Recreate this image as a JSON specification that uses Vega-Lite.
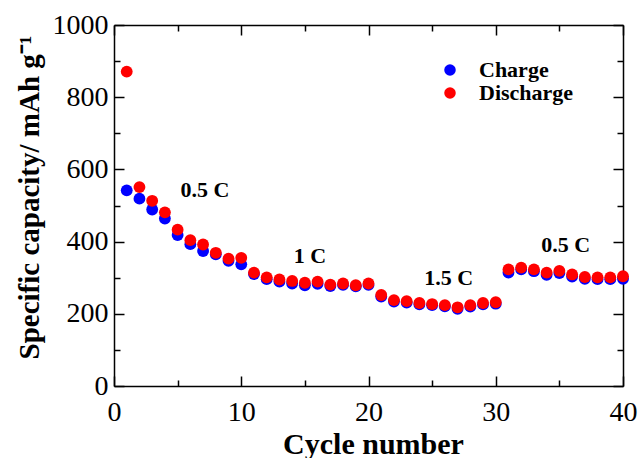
{
  "$schema": "https://vega.github.io/schema/vega-lite/v6.json",
  "width": 509,
  "height": 361,
  "autosize": {"type": "none"},
  "padding": {"left": 114, "top": 25, "right": 18, "bottom": 72},
  "background": "white",
  "config": {
    "view": {"stroke": null},
    "style": {"guide-label": {"font": "Liberation Serif", "fontSize": 28, "fill": "black"}, "guide-title": {"font": "Liberation Serif", "fontWeight": "bold", "fill": "black"}},
    "axis": {
      "domainColor": "black",
      "domainWidth": 1.5,
      "tickColor": "black",
      "tickWidth": 1.5,
      "grid": false,
      "labelFont": "Liberation Serif",
      "labelFontSize": 28,
      "labelColor": "black",
      "titleFont": "Liberation Serif",
      "titleFontWeight": "bold",
      "titleColor": "black"
    },
    "legend": {
      "orient": "none",
      "legendX": 325,
      "legendY": 34,
      "padding": 0,
      "title": null,
      "symbolType": "circle",
      "symbolSize": 133,
      "symbolStrokeWidth": 0,
      "labelFont": "Liberation Serif",
      "labelFontWeight": "bold",
      "labelFontSize": 22,
      "labelColor": "black",
      "labelOffset": 18,
      "rowPadding": 1
    }
  },
  "resolve": {"axis": {"x": "independent", "y": "independent"}},
  "layer": [
    {
      "data": {
        "values": [
          {"cycle": 1, "series": "Charge", "capacity": 542},
          {"cycle": 2, "series": "Charge", "capacity": 519},
          {"cycle": 3, "series": "Charge", "capacity": 489},
          {"cycle": 4, "series": "Charge", "capacity": 464},
          {"cycle": 5, "series": "Charge", "capacity": 418},
          {"cycle": 6, "series": "Charge", "capacity": 393},
          {"cycle": 7, "series": "Charge", "capacity": 374},
          {"cycle": 8, "series": "Charge", "capacity": 365},
          {"cycle": 9, "series": "Charge", "capacity": 347},
          {"cycle": 10, "series": "Charge", "capacity": 337},
          {"cycle": 11, "series": "Charge", "capacity": 310},
          {"cycle": 12, "series": "Charge", "capacity": 296},
          {"cycle": 13, "series": "Charge", "capacity": 289},
          {"cycle": 14, "series": "Charge", "capacity": 284},
          {"cycle": 15, "series": "Charge", "capacity": 279},
          {"cycle": 16, "series": "Charge", "capacity": 283},
          {"cycle": 17, "series": "Charge", "capacity": 277},
          {"cycle": 18, "series": "Charge", "capacity": 280},
          {"cycle": 19, "series": "Charge", "capacity": 276},
          {"cycle": 20, "series": "Charge", "capacity": 280},
          {"cycle": 21, "series": "Charge", "capacity": 248},
          {"cycle": 22, "series": "Charge", "capacity": 234},
          {"cycle": 23, "series": "Charge", "capacity": 231},
          {"cycle": 24, "series": "Charge", "capacity": 226},
          {"cycle": 25, "series": "Charge", "capacity": 224},
          {"cycle": 26, "series": "Charge", "capacity": 221},
          {"cycle": 27, "series": "Charge", "capacity": 214},
          {"cycle": 28, "series": "Charge", "capacity": 220},
          {"cycle": 29, "series": "Charge", "capacity": 226},
          {"cycle": 30, "series": "Charge", "capacity": 228},
          {"cycle": 31, "series": "Charge", "capacity": 314},
          {"cycle": 32, "series": "Charge", "capacity": 323},
          {"cycle": 33, "series": "Charge", "capacity": 318},
          {"cycle": 34, "series": "Charge", "capacity": 308},
          {"cycle": 35, "series": "Charge", "capacity": 313},
          {"cycle": 36, "series": "Charge", "capacity": 303},
          {"cycle": 37, "series": "Charge", "capacity": 297},
          {"cycle": 38, "series": "Charge", "capacity": 296},
          {"cycle": 39, "series": "Charge", "capacity": 296},
          {"cycle": 40, "series": "Charge", "capacity": 297},
          {"cycle": 1, "series": "Discharge", "capacity": 871},
          {"cycle": 2, "series": "Discharge", "capacity": 551},
          {"cycle": 3, "series": "Discharge", "capacity": 513},
          {"cycle": 4, "series": "Discharge", "capacity": 481},
          {"cycle": 5, "series": "Discharge", "capacity": 433},
          {"cycle": 6, "series": "Discharge", "capacity": 404},
          {"cycle": 7, "series": "Discharge", "capacity": 392},
          {"cycle": 8, "series": "Discharge", "capacity": 369},
          {"cycle": 9, "series": "Discharge", "capacity": 353},
          {"cycle": 10, "series": "Discharge", "capacity": 355},
          {"cycle": 11, "series": "Discharge", "capacity": 314},
          {"cycle": 12, "series": "Discharge", "capacity": 301},
          {"cycle": 13, "series": "Discharge", "capacity": 295},
          {"cycle": 14, "series": "Discharge", "capacity": 291},
          {"cycle": 15, "series": "Discharge", "capacity": 286},
          {"cycle": 16, "series": "Discharge", "capacity": 289},
          {"cycle": 17, "series": "Discharge", "capacity": 281},
          {"cycle": 18, "series": "Discharge", "capacity": 284},
          {"cycle": 19, "series": "Discharge", "capacity": 279},
          {"cycle": 20, "series": "Discharge", "capacity": 284},
          {"cycle": 21, "series": "Discharge", "capacity": 252},
          {"cycle": 22, "series": "Discharge", "capacity": 238},
          {"cycle": 23, "series": "Discharge", "capacity": 235},
          {"cycle": 24, "series": "Discharge", "capacity": 230},
          {"cycle": 25, "series": "Discharge", "capacity": 227},
          {"cycle": 26, "series": "Discharge", "capacity": 224},
          {"cycle": 27, "series": "Discharge", "capacity": 218},
          {"cycle": 28, "series": "Discharge", "capacity": 224},
          {"cycle": 29, "series": "Discharge", "capacity": 230},
          {"cycle": 30, "series": "Discharge", "capacity": 232},
          {"cycle": 31, "series": "Discharge", "capacity": 323},
          {"cycle": 32, "series": "Discharge", "capacity": 328},
          {"cycle": 33, "series": "Discharge", "capacity": 323},
          {"cycle": 34, "series": "Discharge", "capacity": 314},
          {"cycle": 35, "series": "Discharge", "capacity": 319},
          {"cycle": 36, "series": "Discharge", "capacity": 309},
          {"cycle": 37, "series": "Discharge", "capacity": 302},
          {"cycle": 38, "series": "Discharge", "capacity": 301},
          {"cycle": 39, "series": "Discharge", "capacity": 301},
          {"cycle": 40, "series": "Discharge", "capacity": 304}
        ]
      },
      "mark": {"type": "point", "shape": "circle", "filled": true, "size": 140, "opacity": 1},
      "encoding": {
        "x": {
          "field": "cycle",
          "type": "quantitative",
          "scale": {"domain": [0, 40], "nice": false},
          "axis": {
            "orient": "bottom",
            "title": "Cycle number",
            "titleFont": "Liberation Serif",
            "titleFontSize": 30,
            "titleBaseline": "alphabetic",
            "titleX": 259,
            "titleY": 67,
            "values": [0, 5, 10, 15, 20, 25, 30, 35, 40],
            "labelExpr": "datum.value % 10 === 0 ? datum.label : ''",
            "labelFont": "Liberation Serif",
            "labelFontSize": 28,
            "tickSize": {"condition": {"test": "datum.value % 10 === 0", "value": -10}, "value": -6},
            "labelPadding": 22,
            "labelFlush": false,
            "labelOverlap": false
          }
        },
        "y": {
          "field": "capacity",
          "type": "quantitative",
          "scale": {"domain": [0, 1000], "nice": false},
          "axis": {
            "orient": "left",
            "title": "Specific capacity/ mAh g⁻¹",
            "titleFont": "Liberation Serif",
            "titleFontSize": 29,
            "titleBaseline": "alphabetic",
            "titleX": -76,
            "titleY": 172,
            "values": [0, 100, 200, 300, 400, 500, 600, 700, 800, 900, 1000],
            "labelExpr": "datum.value % 200 === 0 ? datum.label : ''",
            "labelFont": "Liberation Serif",
            "labelFontSize": 28,
            "format": "d",
            "tickSize": {"condition": {"test": "datum.value % 200 === 0", "value": -10}, "value": -6},
            "labelPadding": 16,
            "labelFlush": false,
            "labelOverlap": false
          }
        },
        "color": {
          "field": "series",
          "type": "nominal",
          "scale": {"domain": ["Charge", "Discharge"], "range": ["#0000ff", "#ff0000"]}
        }
      }
    },
    {
      "data": {
        "values": [
          {"label": "0.5 C", "cycle": 7.15, "capacity": 542},
          {"label": "1 C", "cycle": 15.4, "capacity": 360},
          {"label": "1.5 C", "cycle": 26.3, "capacity": 299},
          {"label": "0.5 C", "cycle": 35.5, "capacity": 390}
        ]
      },
      "mark": {"type": "text", "font": "Liberation Serif", "fontWeight": "bold", "fontSize": 22, "align": "center", "baseline": "middle", "color": "black"},
      "encoding": {
        "x": {
          "field": "cycle",
          "type": "quantitative",
          "scale": {"domain": [0, 40], "nice": false},
          "axis": {
            "orient": "top",
            "title": null,
            "labels": false,
            "values": [0, 5, 10, 15, 20, 25, 30, 35, 40],
            "tickSize": {"condition": {"test": "datum.value % 10 === 0", "value": -10}, "value": -6}
          }
        },
        "y": {
          "field": "capacity",
          "type": "quantitative",
          "scale": {"domain": [0, 1000], "nice": false},
          "axis": {
            "orient": "right",
            "title": null,
            "labels": false,
            "values": [0, 100, 200, 300, 400, 500, 600, 700, 800, 900, 1000],
            "tickSize": {"condition": {"test": "datum.value % 200 === 0", "value": -10}, "value": -6}
          }
        },
        "text": {"field": "label", "type": "nominal"}
      }
    }
  ]
}
